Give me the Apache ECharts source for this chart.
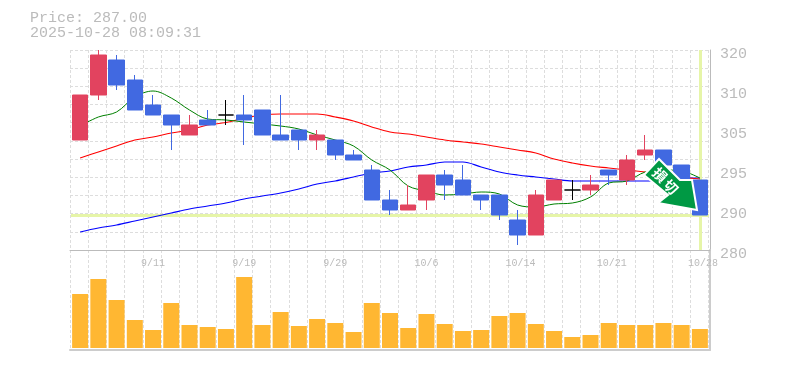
<!DOCTYPE html>
<html>
<head>
<meta charset="utf-8">
<style>html,body{margin:0;padding:0;background:#fff}#c{width:785px;height:370px}</style>
<script src="https://cdn.jsdelivr.net/npm/echarts@6/dist/echarts.min.js"></script>
</head>
<body>
<div id="c"></div>
<script>
const dates = ['9/5','9/8','9/9','9/10','9/11','9/12','9/16','9/17','9/18','9/19','9/22','9/24','9/25','9/26','9/29','9/30','10/1','10/2','10/3','10/6','10/7','10/8','10/9','10/10','10/14','10/15','10/16','10/17','10/20','10/21','10/22','10/23','10/24','10/27','10/28'];
const shownDates = ['9/11','9/19','9/29','10/6','10/14','10/21','10/28'];
const priceTickLabels = ['280','290','295','305','310','320'];
const opens  = [302,311,318,314,309,307,303,306,307,307,308,303,304,302,302,299,296,290,288,290,295,294,291,291,286,283,290,292,292,296,294,299,300,297,294];
const closes = [311,319,313,308,307,305,305,305,307,306,303,302,302,303,299,298,290,288,289,295,293,291,290,287,283,291,294,292,293,295,298,300,297,294,287];
const lows   = [302,310,312,308,307,300,303,305,305,301,303,302,300,300,298,298,290,287,288,288,290,291,288,286,281,283,290,290,291,293,293,298,297,294,287];
const highs  = [311,320,319,315,311,307,307,308,310,311,308,311,304,304,302,300,297,292,293,295,296,297,291,291,288,292,294,294,295,296,299,303,300,297,294];
const maShort = [304.8,306.6,307.6,310.6,311.8,310.4,308,306.2,306,305.6,305.2,304.8,304.2,303,302,300.8,298,296,292.8,291.8,291,291.2,291.6,291.2,289,288.6,289.2,289.4,290.6,293.4,293.8,295.6,296,295.8,294.4];
const maMid = [298.4,299.6,300.8,302,302.6,303.4,304,305,305.5,306.4,307,307.2,307.2,307.2,306.6,305.8,304.6,303.6,303.2,302.6,302,301.6,301.2,300.6,300,299.4,298.2,297.4,296.8,296.4,296,295.6,295.2,294.6,294.2];
const maLong = [283.6,284.4,285,285.8,286.6,287.4,288.2,288.8,289.4,290.2,290.8,291.4,292.2,293.2,293.8,294.6,295.4,295.8,296.6,297,297.6,297.6,296.6,295.6,295,294.6,294.2,293.8,293.8,293.8,293.8,293.8,293.8,294.4,294.4];
const volumes = [54,69,48,28,18,45,23,21,19,71,23,36,22,29,25,16,45,35,20,34,24,17,18,32,35,24,17,11,13,25,23,23,25,23,19];
const lastPrice = 287;
const titleText = 'Price: 287.00\n2025-10-28 08:09:31';

const MONO = '"Liberation Mono","DejaVu Sans Mono",monospace';
const GREY = '#bbbbbb', GRID = '#dddddd', MARK = '#e6f5a8';
const dashed = {color: GRID, type: [3, 2], width: 1};
const candles = dates.map((_, i) => [opens[i], closes[i], lows[i], highs[i]]);
const hide = {axisLine: {show: false}, axisTick: {show: false}, axisLabel: {show: false}, splitLine: {show: false}};
const chart = echarts.init(document.getElementById('c'), null, {renderer: 'canvas'});
chart.setOption({
  animation: false,
  backgroundColor: '#fff',
  title: {text: titleText, left: 30, top: 11, padding: 0, textStyle: {fontFamily: MONO, fontSize: 15, lineHeight: 15, fontWeight: 'normal', color: GREY}},
  grid: [
    {left: 71, top: 50, width: 638, height: 200},   // 0 price data
    {left: 71, top: 250, width: 638, height: 100},  // 1 volume data
    {left: 70, top: 50, width: 640, height: 200},   // 2 price frame
    {left: 70, top: 250, width: 640, height: 100},  // 3 volume frame
    {left: 70, top: 50, width: 638.4, height: 300}  // 4 vertical grid
  ],
  xAxis: [
    {type: 'category', gridIndex: 0, data: dates, axisLine: {show: false}, axisTick: {show: false}, splitLine: {show: false},
     axisLabel: {interval: 0, hideOverlap: false, showMaxLabel: true, margin: 8, fontFamily: MONO, fontSize: 10, color: GREY,
       formatter: v => !shownDates.includes(v) ? '' : (v.length === 5 ? ' ' + v : v)}},
    {type: 'category', gridIndex: 1, data: dates, ...hide},
    {type: 'value', gridIndex: 2, min: 0, max: 1, ...hide, axisLine: {show: true, onZero: false, lineStyle: {color: GREY, width: 1}}},
    {type: 'value', gridIndex: 3, min: 0, max: 1, ...hide, axisLine: {show: true, onZero: false, lineStyle: {color: '#cccccc', width: 2}}},
    {type: 'category', gridIndex: 4, data: dates, ...hide, splitLine: {show: true, interval: 0, lineStyle: dashed}}
  ],
  yAxis: [
    {type: 'value', gridIndex: 0, min: 280, max: 320, ...hide},
    {type: 'value', gridIndex: 1, min: -2, max: 98, ...hide},
    {type: 'value', gridIndex: 2, position: 'right', min: 280, max: 320, interval: 8,
     axisLine: {show: true, onZero: false, lineStyle: {color: GREY, width: 1}}, axisTick: {show: false}, splitLine: {show: false},
     axisLabel: {margin: 10, verticalAlign: 'top', lineHeight: 8, fontFamily: MONO, fontSize: 15, color: GREY, showMinLabel: true, showMaxLabel: true,
       formatter: (v) => priceTickLabels[Math.round((v - 280) / 8)]}},
    {type: 'value', gridIndex: 3, position: 'right', min: 0, max: 1, ...hide, axisLine: {show: true, onZero: false, lineStyle: {color: '#cccccc', width: 2}}},
    {type: 'value', gridIndex: 4, min: 0, max: 1, ...hide},
    {type: 'value', gridIndex: 2, position: 'left', min: 0, max: 11, interval: 1, ...hide, splitLine: {show: true, lineStyle: dashed}}
  ],
  series: [
    {type: 'line', name: 'mark', xAxisIndex: 0, yAxisIndex: 0, data: [], z: 1, silent: true,
     markLine: {silent: true, symbol: 'none', label: {show: false}, animation: false, z: 1,
       lineStyle: {color: MARK, width: 3, type: 'solid'},
       data: [{yAxis: lastPrice}, {xAxis: dates[dates.length - 1]}]}},
    {type: 'line', name: 'long', data: maLong, xAxisIndex: 0, yAxisIndex: 0, symbol: 'none', smooth: 0.35, z: 2, lineStyle: {color: '#0000ff', width: 1.1}},
    {type: 'line', name: 'mid', data: maMid, xAxisIndex: 0, yAxisIndex: 0, symbol: 'none', smooth: 0.35, z: 2, lineStyle: {color: '#ff0000', width: 1.1}},
    {type: 'line', name: 'short', data: maShort, xAxisIndex: 0, yAxisIndex: 0, symbol: 'none', smooth: 0.35, z: 2, lineStyle: {color: '#008000', width: 1}},
    {type: 'candlestick', name: 'price', data: candles, xAxisIndex: 0, yAxisIndex: 0, barWidth: 16, z: 3,
     itemStyle: {color: '#e2435f', color0: '#4169e1', borderColor: '#e2435f', borderColor0: '#4169e1', borderColorDoji: '#000000', borderWidth: 1}},
    {type: 'bar', name: 'volume', data: volumes, xAxisIndex: 1, yAxisIndex: 1, barWidth: 16, z: 3, itemStyle: {color: '#ffb732'}}
  ],
  graphic: [
    {type: 'polygon', z: 100, silent: true,
     shape: {points: [[644,175],[659,159],[680,180],[692,180],[697,210],[658,203],[668,195]]},
     style: {fill: '#009944', stroke: '#ffffff', lineWidth: 2}},
    {type: 'text', z: 101, silent: true, x: 660, y: 175, rotation: -Math.PI / 4,
     style: {text: '損', fill: '#fff', fontFamily: '"Noto Sans CJK JP"', fontWeight: 'bold', fontSize: 14, align: 'center', verticalAlign: 'middle'}},
    {type: 'text', z: 101, silent: true, x: 671, y: 187, rotation: -Math.PI / 4,
     style: {text: '切', fill: '#fff', fontFamily: '"Noto Sans CJK JP"', fontWeight: 'bold', fontSize: 14, align: 'center', verticalAlign: 'middle'}}
  ]
});
</script>
</body>
</html>
